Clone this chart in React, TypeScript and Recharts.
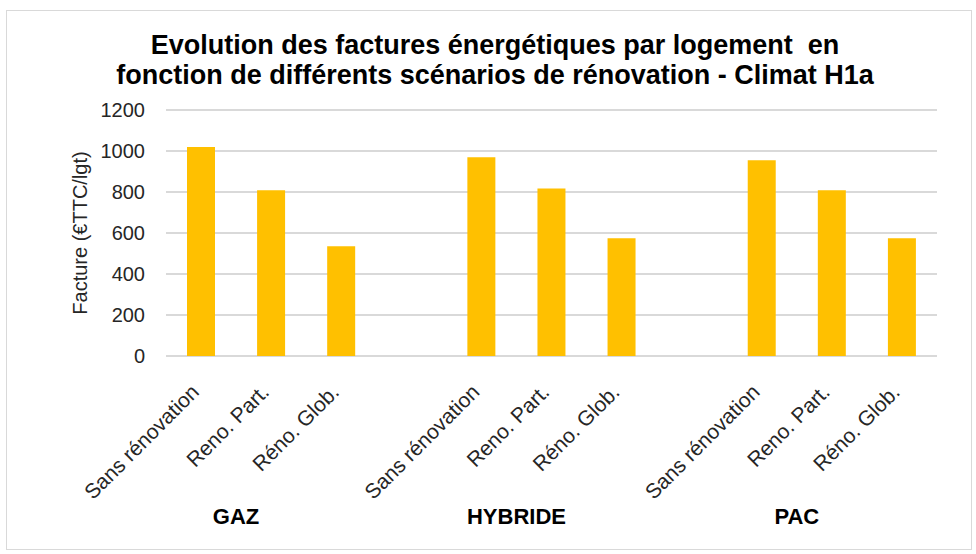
import { BarChart, Bar, XAxis, YAxis, CartesianGrid } from "recharts";

// one slot per bar, empty slots make the gaps between heating systems
const scenarios = [
  "Sans rénovation", "Reno. Part.", "Réno. Glob.", "",
  "Sans rénovation", "Reno. Part.", "Réno. Glob.", "",
  "Sans rénovation", "Reno. Part.", "Réno. Glob.",
];
const factures = [1020, 808, 535, null, 970, 817, 575, null, 955, 808, 575];
const groups = ["", "GAZ", "", "", "", "HYBRIDE", "", "", "", "PAC", ""];
const yTicks = [0, 200, 400, 600, 800, 1000, 1200];

const data = scenarios.map((s, i) => ({ scenario: s, facture: factures[i], group: groups[i] }));

const FONT = "'Liberation Sans', Arial, sans-serif";
const TEXT = "#262626";

const ScenarioTick = (props: any) => {
  const { x, y, payload } = props;
  return (
    <g transform={`translate(${x - 5},${y})`}>
      <text transform="rotate(-45)" textAnchor="end" fontSize={21} fill={TEXT} fontFamily={FONT} dy={6}>
        {payload.value}
      </text>
    </g>
  );
};

const GroupTick = (props: any) => {
  const { x, y, payload } = props;
  if (!payload.value) return null;
  return (
    <text x={x - (payload.offset || 0)} y={y} textAnchor="middle" fontSize={22} fontWeight="bold" fill="#000" fontFamily={FONT} dy={24}>
      {payload.value}
    </text>
  );
};

export default function App() {
  return (
    <div style={{ position: "absolute", left: 0, top: 0, width: 976, height: 554, background: "#fff", fontFamily: FONT }}>
      <div style={{ position: "absolute", left: 6, top: 10, width: 966, height: 540, border: "1px solid #d9d9d9", boxSizing: "border-box" }} />
      <div style={{ position: "absolute", left: 0, top: 30, width: 990, textAlign: "center", fontWeight: "bold", fontSize: 27, lineHeight: "30px", color: "#000" }}>
        Evolution des factures énergétiques par logement&nbsp; en<br />
        fonction de différents scénarios de rénovation - Climat H1a
      </div>
      <div style={{ position: "absolute", left: 0, top: 0 }}>
        <BarChart width={976} height={554} data={data} margin={{ top: 110, right: 39, left: 60, bottom: 6 }}>
          <CartesianGrid xAxisId="a" vertical={false} stroke="#d9d9d9" strokeWidth={2} />
          <YAxis
            domain={[0, 1200]}
            ticks={yTicks}
            width={106}
            axisLine={false}
            tickLine={false}
            tickSize={0}
            tickMargin={21}
            tick={{ fontSize: 20, fill: TEXT, fontFamily: FONT }}
            label={{ value: "Facture (€TTC/lgt)", angle: -90, position: "insideLeft", offset: 20, style: { textAnchor: "middle", fontSize: 20, fill: TEXT, fontFamily: FONT } }}
          />
          <XAxis xAxisId="a" dataKey="scenario" interval={0} height={140} axisLine={false} tickLine={false} tickSize={0} tickMargin={33} tick={<ScenarioTick />} />
          <XAxis xAxisId="b" dataKey="group" interval={0} height={52} axisLine={false} tickLine={false} tickSize={0} tickMargin={4} tick={<GroupTick />} />
          <Bar xAxisId="a" dataKey="facture" fill="#FFC000" barSize={28} isAnimationActive={false} />
        </BarChart>
      </div>
    </div>
  );
}
